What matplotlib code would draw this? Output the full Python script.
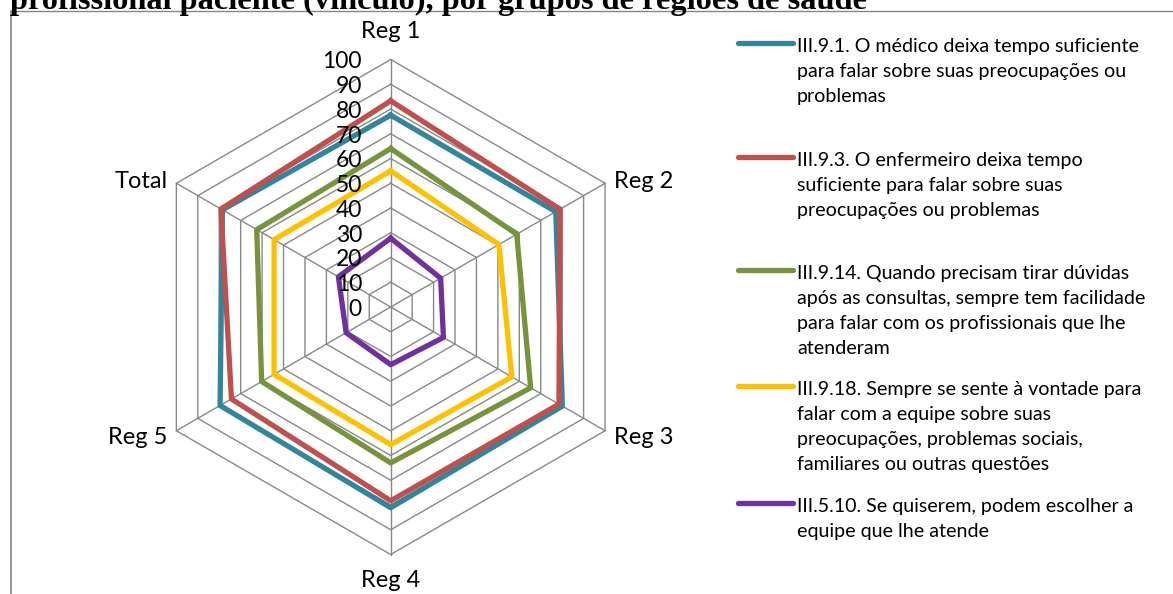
import matplotlib
matplotlib.use('Agg')
import matplotlib.pyplot as plt
from matplotlib.lines import Line2D
import numpy as np

# data
categories = ['Reg 1', 'Reg 2', 'Reg 3', 'Reg 4', 'Reg 5', 'Total']
series_labels = [
    'III.9.1. O médico deixa tempo suficiente\npara falar sobre suas preocupações ou\nproblemas',
    'III.9.3. O enfermeiro deixa tempo\nsuficiente para falar sobre suas\npreocupações ou problemas',
    'III.9.14. Quando precisam tirar dúvidas\napós as consultas, sempre tem facilidade\npara falar com os profissionais que lhe\natenderam',
    'III.9.18. Sempre se sente à vontade para\nfalar com a equipe sobre suas\npreocupações, problemas sociais,\nfamiliares ou outras questões',
    'III.5.10. Se quiserem, podem escolher a\nequipe que lhe atende',
]
medico = [77.5, 77.0, 80.1, 81.1, 79.6, 78.5]
enfermeiro = [83.3, 79.0, 78.5, 78.3, 74.3, 79.2]
duvidas = [64.0, 58.8, 65.3, 63.0, 60.2, 62.5]
vontade = [55.0, 50.5, 56.5, 55.6, 54.4, 54.4]
escolher = [27.8, 23.3, 24.6, 23.3, 20.8, 24.4]
series = [medico, enfermeiro, duvidas, vontade, escolher]
colors = ['#31859C', '#C0504D', '#77933C', '#FFC000', '#7030A0']
ticks = [0, 10, 20, 30, 40, 50, 60, 70, 80, 90, 100]
title = 'profissional paciente (vínculo), por grupos de regiões de saúde'

W, H = 1173, 594
fig = plt.figure(figsize=(W / 100, H / 100), dpi=100)

def fx(x):
    return x / W

def fy(y):
    return 1 - y / H

# radar area: centre at (390.7, 307) px, 2.475 px per unit
cx, cy, k = 390.7, 307.0, 2.475
half = 270
ax = fig.add_axes([fx(cx - half), (H - cy - half) / H, 2 * half / W, 2 * half / H])
lim = half / k
ax.set_xlim(-lim, lim)
ax.set_ylim(-lim, lim)
ax.axis('off')

n = len(categories)
ang = np.arange(n) * 2 * np.pi / n
sx, sy = np.sin(ang), np.cos(ang)

grid_c = '#888888'
for t in ticks[1:]:
    ax.plot(np.append(sx, sx[0]) * t, np.append(sy, sy[0]) * t,
            color=grid_c, lw=1.0, zorder=1)
for i in range(n):
    ax.plot([0, sx[i] * 100], [0, sy[i] * 100], color=grid_c, lw=1.0, zorder=1)

for vals, c in zip(series, colors):
    v = np.array(vals + vals[:1])
    ax.plot(v * np.append(sx, sx[0]), v * np.append(sy, sy[0]), color=c,
            lw=3.8, solid_joinstyle='round', zorder=3)

font = 'Lato'
for t in ticks:
    ax.text(-11.6, t - 1.0, str(t), ha='right', va='center', fontsize=16.5,
            family=font, color='black', zorder=4)

# category labels
lab_r = 100
ax.text(0, 100 + 11.3, categories[0], ha='center', va='center', fontsize=17, family=font)
ax.text(0, -100 - 10.5, categories[3], ha='center', va='center', fontsize=17, family=font)
for i, ha in [(1, 'left'), (2, 'left'), (4, 'right'), (5, 'right')]:
    dx = 3.6 if ha == 'left' else -3.6
    dy = 0.8 if sy[i] > 0 else -2.6
    ax.text(sx[i] * lab_r + dx, sy[i] * lab_r + dy, categories[i], ha=ha,
            va='center', fontsize=17, family=font)

# legend
leg_y = [44, 158, 271, 387, 504]
for lab, c, y in zip(series_labels, colors, leg_y):
    fig.add_artist(Line2D([fx(738), fx(793)], [fy(y - 1), fy(y - 1)], color=c,
                          lw=3.8, solid_capstyle='round'))
    fig.text(fx(797), fy(y - 6), lab, ha='left', va='top', fontsize=14.1,
             family=font, linespacing=1.56)

# frame and clipped title
fig.add_artist(Line2D([fx(10.5), fx(10.5)], [fy(10.5), fy(594)], color='#868686', lw=1.2))
fig.add_artist(Line2D([fx(10.5), fx(1173)], [fy(10.5), fy(10.5)], color='#868686', lw=1.0))
fig.text(fx(10), fy(9), title, ha='left', va='baseline', fontsize=23.3,
         family='Liberation Serif', fontweight='bold')

fig.savefig('out.png', dpi=100)
